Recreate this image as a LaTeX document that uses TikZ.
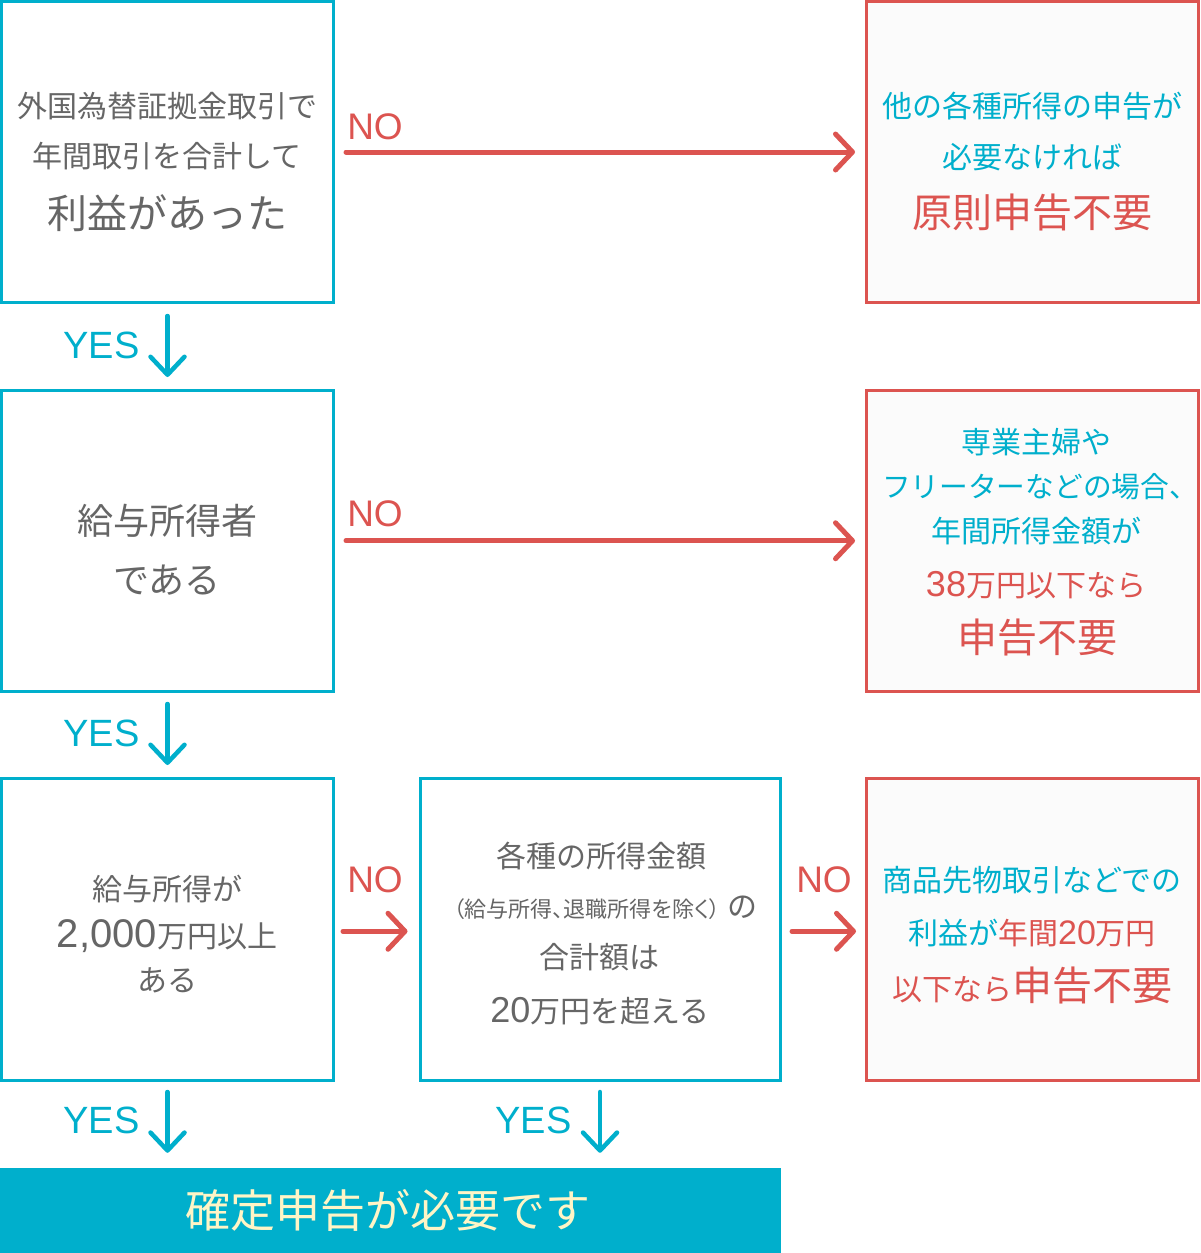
\documentclass[tikz,border=0pt]{standalone}
\usepackage{fontspec}
\setmainfont{Noto Sans CJK JP}
\newfontfamily\lat{Liberation Sans}
\usetikzlibrary{arrows.meta}
\definecolor{cy}{HTML}{00AFCC}
\definecolor{rd}{HTML}{DC5450}
\definecolor{gt}{HTML}{666666}
\definecolor{cream}{HTML}{FFF5C6}
\definecolor{pale}{HTML}{FBFBFB}
\newcommand\fs[1]{\fontsize{#1}{#1}\selectfont}
\begin{document}
\begin{tikzpicture}[x=1pt,y=-1pt,
  cybox/.style={draw=cy,line width=3pt,fill=white,inner sep=0pt,minimum width=332pt,minimum height=301pt},
  rdbox/.style={draw=rd,line width=3pt,fill=pale,inner sep=0pt,minimum width=332pt,minimum height=301pt},
  gtxt/.style={inner sep=0pt,text=gt,font=\fs{30}},
  ctxt/.style={inner sep=0pt,text=cy,font=\fs{30}},
  rtxt/.style={inner sep=0pt,text=rd,font=\fs{30}},
  noarr/.style={draw=rd,line width=5pt,line cap=round,-{Straight Barb[length=17pt,width=36pt,round]}},
  yesarr/.style={draw=cy,line width=4.5pt,line cap=round,-{Straight Barb[length=18pt,width=34pt,round]}},
  nolab/.style={text=rd,font=\lat\fs{37},inner sep=0pt},
  yeslab/.style={text=cy,font=\lat\fs{38},inner sep=0pt}]
\useasboundingbox (0,0) rectangle (1200,1253);
% boxes
\node[cybox] (A) at (167.5,152) {};
\node[rdbox] (B) at (1032.5,152) {};
\node[cybox,minimum height=301.5pt] (C) at (167.5,540.75) {};
\node[rdbox,minimum height=301.5pt] (D) at (1032.5,540.75) {};
\node[cybox,minimum height=301.5pt] (E) at (167.5,929.25) {};
\node[cybox,minimum height=301.5pt,minimum width=360pt] (F) at (600,929.25) {};
\node[rdbox,minimum height=301.5pt] (G) at (1032.5,929.25) {};
\node[fill=cy,inner sep=0pt,minimum width=781pt,minimum height=85pt] (bar) at (390.5,1210.5) {};
% texts box A
\node[gtxt] (a1) at (167,106) {外国為替証拠金取引で};
\node[gtxt] (a2) at (167,156) {年間取引を合計して};
\node[gtxt,font=\fs{40}] (a3) at (167,213) {利益があった};
% box B
\node[ctxt] (b1) at (1032,106) {他の各種所得の申告が};
\node[ctxt] (b2) at (1032,157) {必要なければ};
\node[rtxt,font=\fs{40}] (b3) at (1032,212) {原則申告不要};
% box C
\node[gtxt,font=\fs{36}] (c1) at (167,521) {給与所得者};
\node[gtxt,font=\fs{36}] (c2) at (167,580) {である};
% box D
\node[ctxt] (d1) at (1036,442) {専業主婦や};
\node[ctxt,font=\fs{28.7}] (d2) at (1040,487) {フリーターなどの場合、};
\node[ctxt] (d3) at (1036,531) {年間所得金額が};
\node[rtxt] (d4) at (1036,585) {{\lat\fs{36}38}万円以下なら};
\node[rtxt,font=\fs{40}] (d5) at (1037,637) {申告不要};
% box E
\node[gtxt] (e1) at (167,889) {給与所得が};
\node[gtxt] (e2) at (167,936) {{\lat\fs{40}2,000}万円以上};
\node[gtxt] (e3) at (167,980) {ある};
% box F
\node[gtxt] (f1) at (601,856) {各種の所得金額};
\node[gtxt] (f2) at (605.5,908) {{\fs{22}\addfontfeature{RawFeature=+palt}（給与所得、退職所得を除く）}\hspace{7pt}の};
\node[gtxt] (f3) at (599,957) {合計額は};
\node[gtxt] (f4) at (600,1011) {{\lat\fs{36}20}万円を超える};
% box G
\node[ctxt] (g1) at (1032,880) {商品先物取引などでの};
\node[ctxt] (g2) at (1032,933) {利益が\textcolor{rd}{年間{\lat\fs{34}20}万円}};
\node[rtxt] (g3) at (1032,985) {以下なら{\fs{40}申告不要}};
% bottom
\node[text=cream,font=\fs{45},inner sep=0pt] (bt) at (388,1210) {確定申告が必要です};
% NO arrows
\draw[noarr,shorten <=11pt,shorten >=10pt] (A.east) -- (B.west);
\draw[noarr,shorten <=11pt,shorten >=10pt] (C.east) -- (D.west);
\draw[noarr,shorten <=8pt,shorten >=11pt] ([yshift=-2pt]E.east) -- ([yshift=-2pt]F.west);
\draw[noarr,shorten <=10.5pt,shorten >=9pt] ([yshift=-2pt]F.east) -- ([yshift=-2pt]G.west);
\node[nolab] (n1) at (375,127) {NO};
\node[nolab] (n2) at (375,514) {NO};
\node[nolab] (n3) at (375,880) {NO};
\node[nolab] (n4) at (824,880) {NO};
% YES arrows
\draw[yesarr,shorten <=12pt,shorten >=11.5pt] (A.south) -- (C.north);
\draw[yesarr,shorten <=11pt,shorten >=12pt] (C.south) -- (E.north);
\draw[yesarr,shorten <=10.5pt,shorten >=15pt] (E.south) -- (E.south |- bar.north);
\draw[yesarr,shorten <=10.5pt,shorten >=15pt] (F.south) -- (F.south |- bar.north);
\node[yeslab] (y1) at (101.5,345) {YES};
\node[yeslab] (y2) at (101.5,733) {YES};
\node[yeslab] (y3) at (101.5,1120) {YES};
\node[yeslab] (y4) at (533.5,1120) {YES};
\end{tikzpicture}
\end{document}
